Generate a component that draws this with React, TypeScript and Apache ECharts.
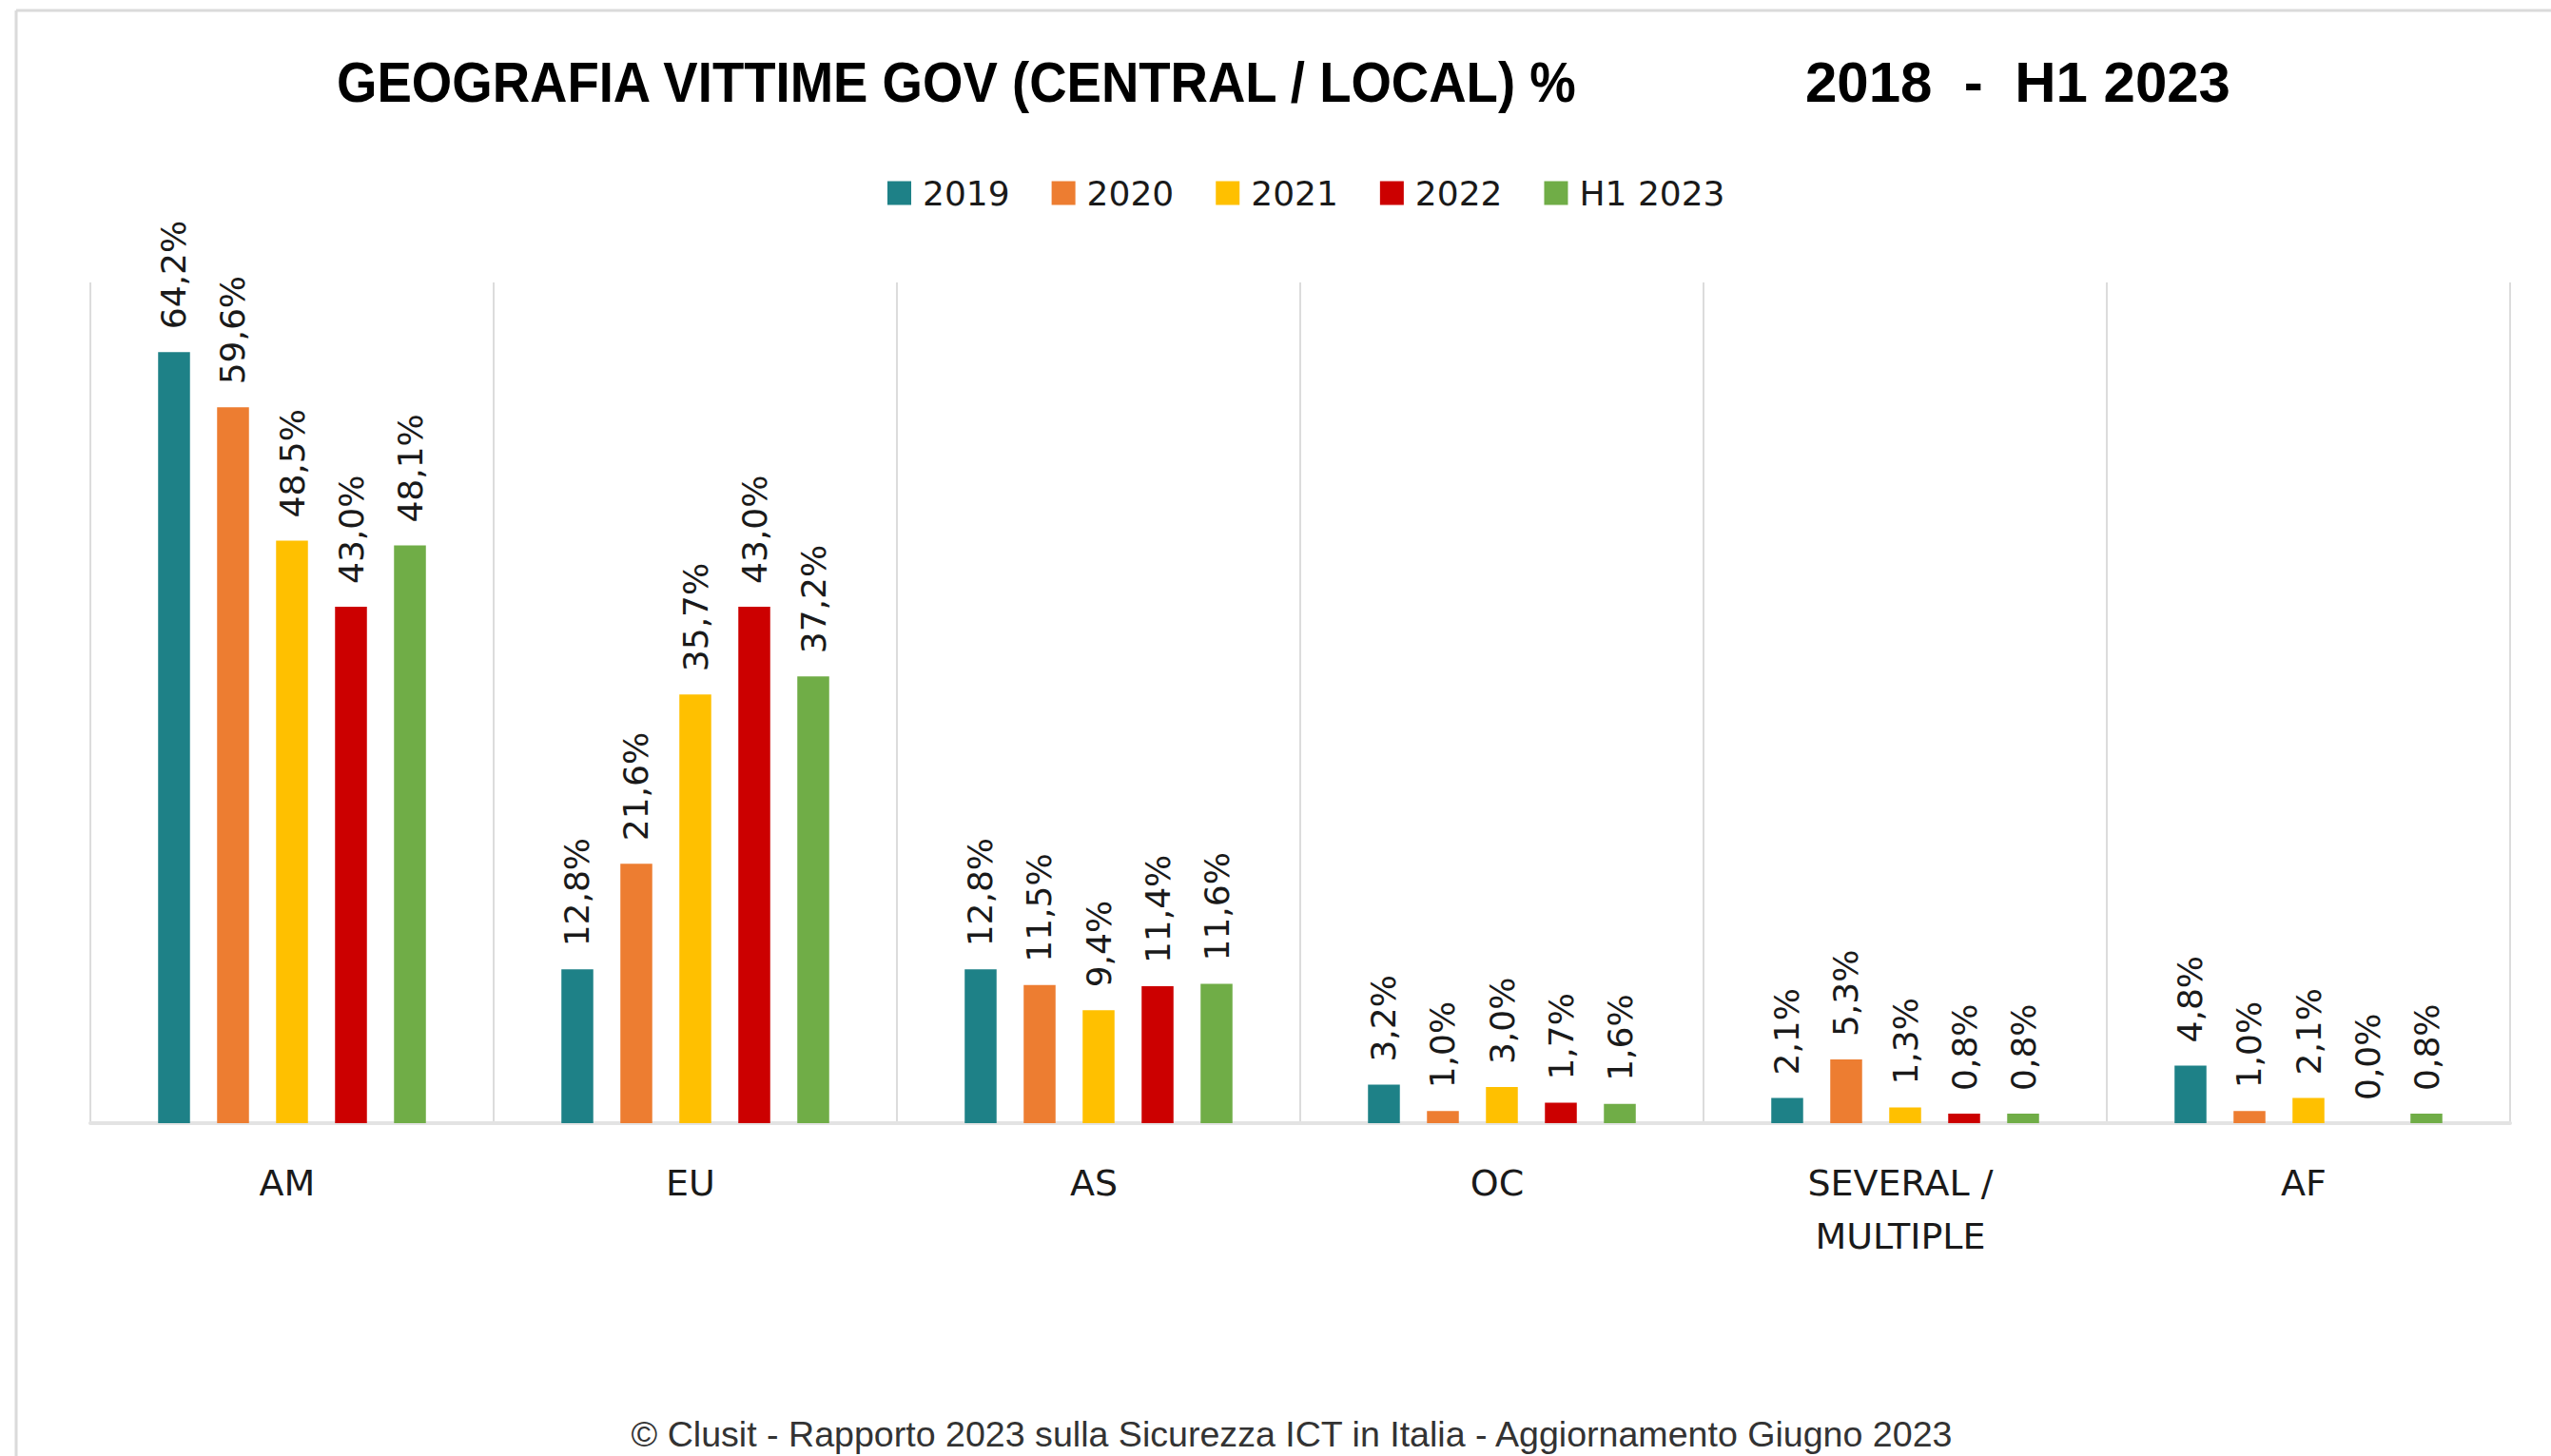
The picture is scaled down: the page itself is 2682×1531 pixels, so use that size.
import React, { useEffect, useRef } from "react";
import * as echarts from "echarts";

const categories = ["AM", "EU", "AS", "OC", "SEVERAL / MULTIPLE", "AF"];
const seriesNames = ["2019", "2020", "2021", "2022", "H1 2023"];
const values2019 = [64.2, 12.8, 12.8, 3.2, 2.1, 4.8];
const values2020 = [59.6, 21.6, 11.5, 1.0, 5.3, 1.0];
const values2021 = [48.5, 35.7, 9.4, 3.0, 1.3, 2.1];
const values2022 = [43.0, 43.0, 11.4, 1.7, 0.8, 0.0];
const valuesH12023 = [48.1, 37.2, 11.6, 1.6, 0.8, 0.8];
const seriesValues = [values2019, values2020, values2021, values2022, valuesH12023];
const seriesColors = ["#1E8187", "#ED7D31", "#FFC000", "#CC0000", "#70AD47"];

const titleMain = "GEOGRAFIA VITTIME GOV (CENTRAL / LOCAL) %";
const titlePeriod = "2018  -  H1 2023";
const footerText = "© Clusit - Rapporto 2023 sulla Sicurezza ICT in Italia - Aggiornamento Giugno 2023";

const W = 2682;
const H = 1531;

export default function App() {
  const ref = useRef<HTMLDivElement>(null);

  useEffect(() => {
    if (!ref.current) return;
    const chart = echarts.init(ref.current, null, { renderer: "svg" });
    const dataFont = "'DejaVu Sans', Verdana, sans-serif";
    const titleFont = "'Liberation Sans', Arial, sans-serif";

    const option: any = {
      animation: false,
      backgroundColor: "#ffffff",
      grid: { left: 95, right: 43, top: 297, bottom: H - 1181, containLabel: false },
      legend: {
        data: seriesNames,
        left: 928,
        top: 180,
        icon: "rect",
        itemWidth: 25,
        itemHeight: 25,
        itemGap: 44,
        textStyle: {
          fontFamily: dataFont,
          fontSize: 36,
          color: "#1a1a1a",
          padding: [0, 0, 0, 7],
        },
      },
      xAxis: {
        type: "category",
        data: categories,
        axisTick: { show: false },
        axisLine: { show: true, lineStyle: { color: "#e3e3e3", width: 4 } },
        splitLine: { show: true, lineStyle: { color: "#dcdcdc", width: 2 } },
        axisLabel: {
          margin: 35,
          fontFamily: dataFont,
          fontSize: 38,
          lineHeight: 56,
          color: "#1a1a1a",
          interval: 0,
          padding: [0, 10, 0, 0],
          formatter: (v: string) => v.replace("/ ", "/\n"),
        },
      },
      yAxis: {
        type: "value",
        min: 0,
        max: 70,
        show: false,
        splitLine: { show: false },
      },
      series: seriesNames.map((name, i) => ({
        name,
        type: "bar",
        data: seriesValues[i],
        barGap: "85%",
        barCategoryGap: "33.6%",
        itemStyle: { color: seriesColors[i] },
        label: {
          show: true,
          position: "top",
          rotate: 90,
          align: "left",
          verticalAlign: "middle",
          distance: 24,
          fontFamily: dataFont,
          fontSize: 36,
          color: "#1a1a1a",
          formatter: (p: any) => Number(p.value).toFixed(1).replace(".", ",") + "%",
        },
      })),
      graphic: [
        {
          type: "line",
          shape: { x1: 17, y1: 11, x2: W, y2: 11 },
          style: { stroke: "#dadada", lineWidth: 3 },
          silent: true,
        },
        {
          type: "line",
          shape: { x1: 17, y1: 11, x2: 17, y2: H },
          style: { stroke: "#dadada", lineWidth: 3 },
          silent: true,
        },
        {
          type: "text",
          x: 354,
          y: 86,
          scaleX: 0.909,
          style: {
            text: titleMain,
            fontFamily: titleFont,
            fontWeight: "bold",
            fontSize: 60,
            fill: "#000000",
            align: "left",
            verticalAlign: "middle",
          },
        },
        {
          type: "text",
          x: 1898,
          y: 86,
          style: {
            text: titlePeriod,
            fontFamily: titleFont,
            fontWeight: "bold",
            fontSize: 60,
            fill: "#000000",
            align: "left",
            verticalAlign: "middle",
          },
        },
        {
          type: "text",
          x: 1358,
          y: 1508,
          style: {
            text: footerText,
            fontFamily: titleFont,
            fontSize: 37.6,
            fill: "#333333",
            align: "center",
            verticalAlign: "middle",
          },
        },
      ],
    };

    chart.setOption(option);
    return () => chart.dispose();
  }, []);

  return (
    <div
      ref={ref}
      style={{ position: "absolute", left: 0, top: 0, width: W, height: H, background: "#ffffff" }}
    />
  );
}
